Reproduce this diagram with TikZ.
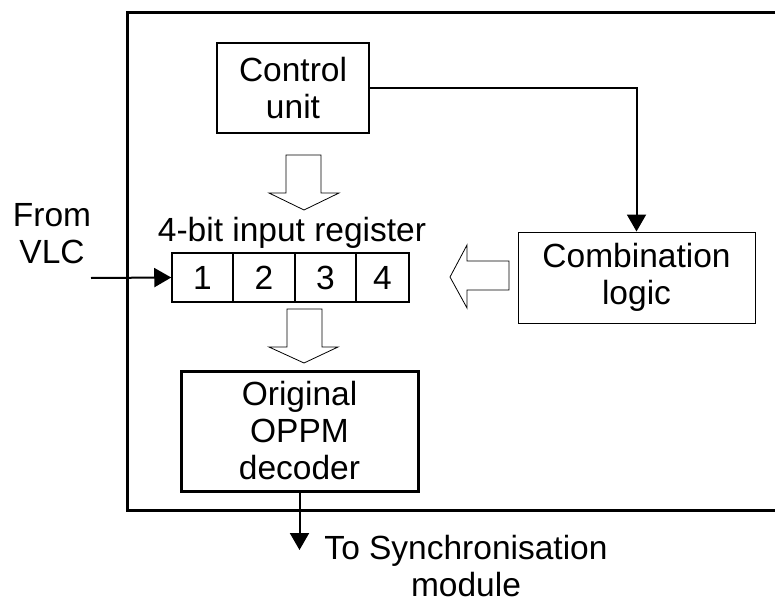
\documentclass[tikz,border=0pt]{standalone}
\usepackage{fontspec}
\setmainfont{Liberation Sans}
\usetikzlibrary{arrows.meta}
\begin{document}
\begin{tikzpicture}[x=1pt,y=-1pt,
  txt/.style={font=\fontsize{33.5}{37}\selectfont, align=center, inner sep=0pt},
  blk/.style={txt, draw, line width=#1},
  cell/.style={txt, draw, line width=1.5pt, minimum height=49pt},
  hollow/.style={draw, line width=0.8pt, fill=white, line join=miter},
  conn/.style={line width=2pt, -{Triangle[length=17pt,width=19pt]}}]
\useasboundingbox (0,0) rectangle (775,604);
% outer frame (open to the right edge)
\draw[line width=3pt] (780,13) -- (127,13) -- (127,510) -- (780,510);
% blocks
\node[blk=2.5pt, minimum width=152pt, minimum height=90pt] (cu) at (293,88) {Control\\unit};
\node[blk=1pt, minimum width=237pt, minimum height=91pt] (cl) at (636.5,277.5) {Combination\\logic};
\node[blk=3pt, minimum width=237pt, minimum height=120pt] (dec) at (299.5,431) {Original\\OPPM\\decoder};
% register cells
\node[cell, minimum width=61pt] (r1) at (202.5,277.5) {1};
\node[cell, minimum width=62pt] (r2) at (264,277.5) {2};
\node[cell, minimum width=61pt] (r3) at (325.5,277.5) {3};
\node[cell, minimum width=53pt] (r4) at (382.5,277.5) {4};
\node[txt] (lab) at (292,233) {4-bit input register};
% texts
\node[txt] (vlc) at (52,234) {From\\VLC};
\node[txt] (sync) at (466,566) {To Synchronisation\\module};
% hollow arrows
\draw[hollow] (286,155) -- (321,155) -- (321,193) -- (339,193) -- (304,210) -- (269,193) -- (286,193) -- cycle;
\draw[hollow] (287,309) -- (322,309) -- (322,347) -- (338,347) -- (304,363) -- (269,347) -- (287,347) -- cycle;
\draw[hollow] (509,261) -- (509,290) -- (467,290) -- (467,308) -- (450,277) -- (467,245) -- (467,261) -- cycle;
% connectors
\coordinate (vin) at (91,278);
\coordinate (out) at (299.5,550);
\draw[conn] (cu.east) -| (cl.north);
\draw[conn] (vin) -- (r1.west);
\draw[conn] (dec.south) -- (out);
\end{tikzpicture}
\end{document}
